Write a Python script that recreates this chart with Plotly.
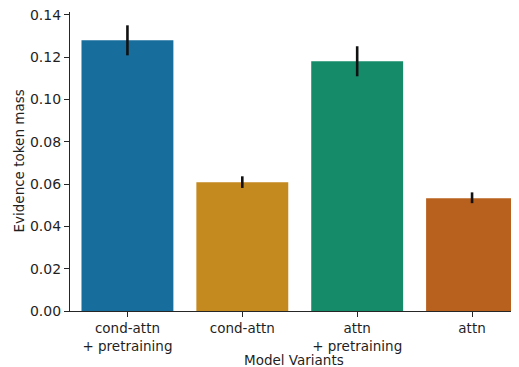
import plotly.graph_objects as go

categories = ["cond-attn<br>+ pretraining", "cond-attn", "attn<br>+ pretraining", "attn"]
values = [0.128, 0.0609, 0.1181, 0.0533]
err_upper = [0.1351, 0.0637, 0.1252, 0.0561]
err_lower = [0.1209, 0.0582, 0.1110, 0.0510]
colors = ["#176d9c", "#c4891f", "#168b69", "#b8601d"]
y_ticks = [0.0, 0.02, 0.04, 0.06, 0.08, 0.10, 0.12, 0.14]

plus = [u - v for u, v in zip(err_upper, values)]
minus = [v - l for v, l in zip(values, err_lower)]

fig = go.Figure()
fig.add_trace(go.Bar(
    x=list(range(len(categories))), y=values,
    marker=dict(color=colors, line=dict(width=0)),
    width=0.8,
    error_y=dict(type="data", symmetric=False, array=plus, arrayminus=minus,
                 color="#111111", thickness=2.6, width=0),
))

font = dict(family="DejaVu Sans", size=13.5, color="#1f1f1f")
yfont = dict(family="DejaVu Sans", size=14, color="#1f1f1f")
fig.update_layout(
    width=511, height=359,
    margin=dict(l=62, r=1, t=4, b=56),
    plot_bgcolor="white", paper_bgcolor="white",
    font=font, showlegend=False,
    xaxis=dict(
        range=[-0.5, 3.4], tickmode="array",
        tickvals=list(range(len(categories))), ticktext=categories,
        showline=True, linecolor="#262626", linewidth=1.3,
        ticks="outside", ticklen=5, tickwidth=1.2, tickcolor="#262626",
        showgrid=False, zeroline=False, automargin=False,
        tickfont=font, ticklabeloverflow="allow",
    ),
    yaxis=dict(
        range=[0, 0.1414], tickmode="array", tickvals=y_ticks,
        ticktext=[f"{v:.2f}" for v in y_ticks],
        showline=True, linecolor="#262626", linewidth=1.3,
        ticks="outside", ticklen=5, tickwidth=1.2, tickcolor="#262626",
        showgrid=False, zeroline=False, automargin=False,
        tickfont=yfont, ticklabeloverflow="allow",
    ),
    annotations=[
        dict(text="Model Variants", xref="paper", yref="paper", x=0.5, y=0,
             xanchor="center", yanchor="middle", yshift=-49, showarrow=False, font=font),
        dict(text="Evidence token mass", xref="paper", yref="paper", x=0, y=0.5,
             xanchor="center", yanchor="middle", xshift=-52, textangle=-90,
             showarrow=False, font=font),
    ],
)
fig.write_html("out.html")
